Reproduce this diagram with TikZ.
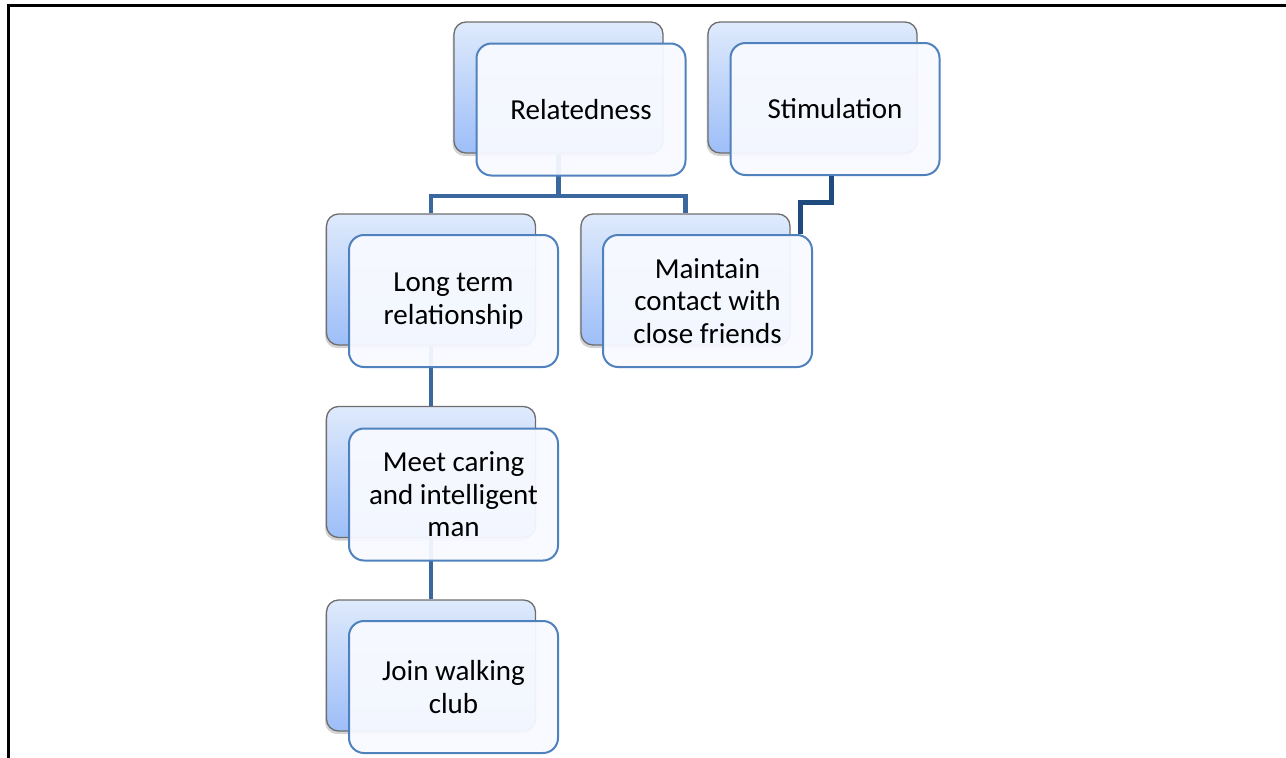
\documentclass[tikz,border=0pt]{standalone}
\usepackage{fontspec}
\setmainfont{Carlito}
\usetikzlibrary{shadows}
\definecolor{backtop}{HTML}{DFEAFC}
\definecolor{backbot}{HTML}{9DBEF8}
\definecolor{backline}{HTML}{6E6E6E}
\definecolor{frontline}{HTML}{4F81BD}
\definecolor{frontfill}{HTML}{F8FAFF}
\definecolor{treeline}{HTML}{3A679E}
\definecolor{stimline}{HTML}{1F4A7E}
\tikzset{
  backbox/.style={rectangle, rounded corners=12pt, draw=backline, line width=1.3pt,
    top color=backtop, bottom color=backbot, minimum width=209pt, minimum height=131pt,
    inner sep=0pt, drop shadow={shadow xshift=-1.5pt, shadow yshift=-3pt, opacity=0.35}},
  frontbox/.style={rectangle, rounded corners=15pt, draw=frontline, line width=2pt,
    fill=frontfill, fill opacity=0.94, text opacity=1, minimum width=209pt, minimum height=132pt,
    inner sep=0pt, align=center, font=\fontsize{29pt}{32.5pt}\selectfont},
  conn/.style={draw=treeline, line width=4.5pt},
  stimconn/.style={draw=stimline, line width=5pt},
  frameline/.style={draw=black, line width=3pt}
}
\begin{document}
\begin{tikzpicture}[x=1pt, y=-1pt]
\useasboundingbox (0,0) rectangle (1286,758);
% frame
\coordinate (fA) at (8,758);
\coordinate (fB) at (8,5);
\coordinate (fC) at (1286,5);
\draw[frameline] (fA) -- (fB) -- (fC);
% back boxes
\node[backbox] (relB) at (558.5,87.5) {};
\node[backbox] (stB) at (812.5,87.5) {};
\node[backbox] (ltB) at (431,279.5) {};
\node[backbox] (mtB) at (685.5,279.5) {};
\node[backbox] (meB) at (431,472) {};
\node[backbox] (jwB) at (431,665.5) {};
% connectors
\coordinate (bar) at (558.5,196);
\draw[conn] (relB.south) -- (bar);
\draw[conn] (ltB.north) |- (bar) -| (mtB.north);
\draw[conn] (ltB.south) -- (meB.north);
\draw[conn] (meB.south) -- (jwB.north);
% front boxes
\node[frontbox] (relF) at (581,109.5) {Relatedness};
\node[frontbox] (stF) at (835,109) {Stimulation};
\node[frontbox] (ltF) at (453.5,301) {Long term\\relationship};
\node[frontbox] (mtF) at (707.5,301) {Maintain\\contact with\\close friends};
\node[frontbox] (meF) at (453.5,494.5) {Meet caring\\and intelligent\\man};
\node[frontbox] (jwF) at (453.5,687) {Join walking\\club};
% stimulation connector
\coordinate (s1) at (815,202);
\draw[stimconn] ([xshift=-4pt]stF.south) |- (s1) -| ([xshift=-13pt]mtF.north east);
\end{tikzpicture}
\end{document}
